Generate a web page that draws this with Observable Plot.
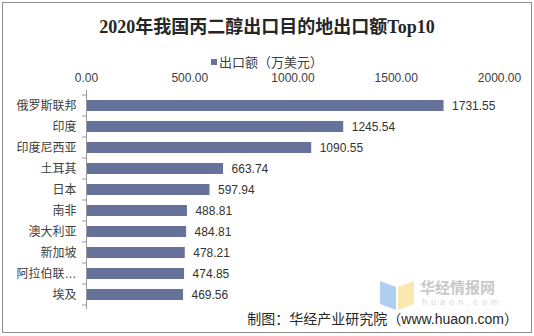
<!DOCTYPE html>
<html>
<head>
<meta charset="utf-8">
<script src="https://cdn.jsdelivr.net/npm/d3@7"></script>
<script src="https://cdn.jsdelivr.net/npm/@observablehq/plot@0.6"></script>
<style>
  html, body { margin: 0; padding: 0; background: #fff; }
  #wrap { position: relative; width: 534px; height: 336px; overflow: hidden; background: #fff; }
  #frame { position: absolute; left: 2px; top: 2px; width: 528px; height: 329px; border: 1px solid #8c8c8c; box-sizing: content-box; }
  #title { position: absolute; left: 0; width: 534px; top: 12px; text-align: center; font: bold 18px "Liberation Serif", "Noto Sans CJK SC", serif; color: #262626; }
  #legend { position: absolute; left: 0; width: 534px; top: 52px; text-align: center; font: 13px "Liberation Sans", "Noto Sans CJK SC", sans-serif; color: #404040; }
  #legend .sw { display: inline-block; width: 6px; height: 6px; margin-right: 2px; vertical-align: 2px; }
  #caption { position: absolute; right: 16px; top: 308px; font: 14px "Liberation Sans", "Noto Sans CJK SC", sans-serif; color: #262626; }
  #plot { position: absolute; left: 0; top: 0; }
  #wm { position: absolute; left: 380px; top: 274px; width: 150px; height: 34px; pointer-events: none; overflow: visible; }
</style>
</head>
<body>
<div id="wrap">
  <div id="frame"></div>
  <div id="plot"></div>
  <div id="title"></div>
  <div id="legend"></div>
  <svg id="wm" width="150" height="34">
    <polygon points="0,7 16,13 16,36 0,30" fill="#9ec3f0" opacity="0.8"/>
    <polygon points="18,13 34,7 34,30 18,36" fill="#f7e39a" opacity="0.8"/>
    <text x="40" y="19" font-family="Noto Sans CJK SC" font-weight="bold" font-size="15" fill="#c8c8c8">华经情报网</text>
    <text x="42" y="31" font-family="Liberation Sans" font-size="9" letter-spacing="4" fill="#d8d8d8">huaon.com</text>
  </svg>
  <div id="caption"></div>
</div>
<script>
const titleText = "2020年我国丙二醇出口目的地出口额Top10";
const seriesName = "出口额（万美元）";
const captionText = "制图：华经产业研究院（www.huaon.com）";
const categories = ["俄罗斯联邦", "印度", "印度尼西亚", "土耳其", "日本", "南非", "澳大利亚", "新加坡", "阿拉伯联…", "埃及"];
const values = [1731.55, 1245.54, 1090.55, 663.74, 597.94, 488.81, 484.81, 478.21, 474.85, 469.56];
const xTicks = [0, 500, 1000, 1500, 2000];

const barColor = "#66729a";
const fmt = d3.format(".2f");
const data = categories.map((name, i) => ({name, value: values[i]}));

document.getElementById("title").textContent = titleText;
document.getElementById("legend").innerHTML = `<span class="sw" style="background:${barColor}"></span>` + seriesName;
document.getElementById("caption").textContent = captionText;

const plot = Plot.plot({
  width: 534,
  height: 336,
  marginTop: 90,
  marginBottom: 27,
  marginLeft: 86,
  marginRight: 35,
  style: {fontFamily: '"Liberation Sans", "Noto Sans CJK SC", sans-serif', fontSize: "12px", color: "#404040", background: "transparent"},
  x: {domain: [0, 2000], axis: "top", ticks: xTicks, tickFormat: fmt, tickSize: 0, tickPadding: 9, label: null},
  y: {domain: categories, paddingInner: 0.5, paddingOuter: 0.25, tickSize: 0, tickPadding: 10, label: null},
  marks: [
    Plot.barX(data, {x: "value", y: "name", fill: barColor}),
    Plot.text(data, {x: "value", y: "name", text: d => fmt(d.value), dx: 8, textAnchor: "start", fontSize: 12, fill: "#333"}),
    Plot.ruleX([0], {stroke: "#9a9a9a"})
  ]
});
document.getElementById("plot").appendChild(plot);

// category separator ticks on the left axis (between bands)
const ys = plot.scale("y");
const xs = plot.scale("x");
const step = ys.apply(categories[1]) - ys.apply(categories[0]);
const bw = ys.bandwidth;
const bounds = categories.map(c => ys.apply(c) - (step - bw) / 2);
bounds.push(bounds[bounds.length - 1] + step);
const x0 = xs.apply(0);
d3.select(plot).append("g")
  .selectAll("line").data(bounds).join("line")
  .attr("x1", x0 - 4).attr("x2", x0)
  .attr("y1", d => d).attr("y2", d => d)
  .attr("stroke", "#9a9a9a");
</script>
</body>
</html>
